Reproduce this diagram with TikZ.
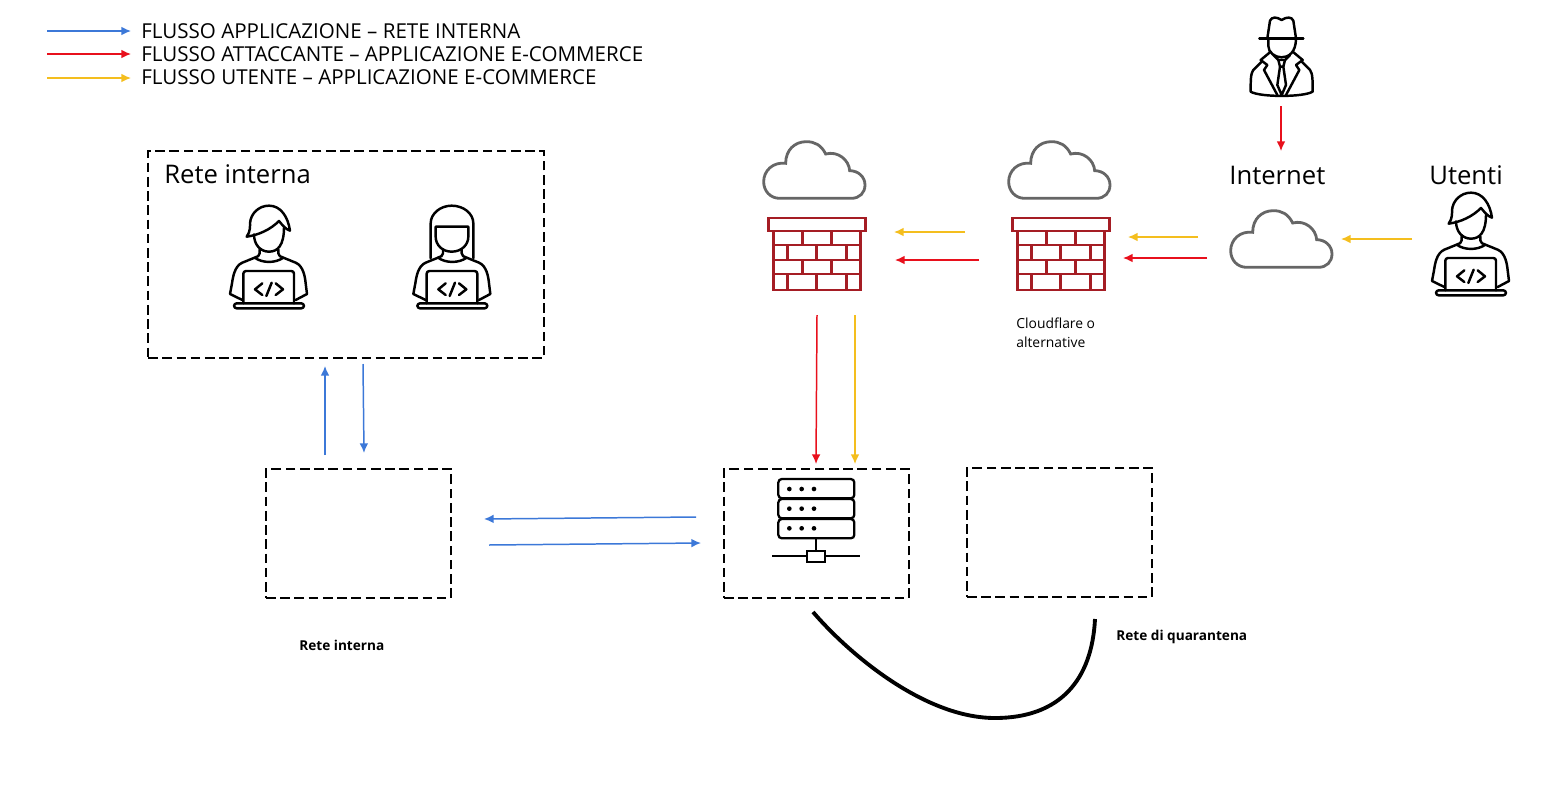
\documentclass[tikz,border=0pt]{standalone}
\usepackage{fontspec}
\setmainfont{Open Sans}
\usetikzlibrary{arrows.meta}
\definecolor{flowblue}{HTML}{3C78D8}
\definecolor{flowred}{HTML}{E8101C}
\definecolor{flowyellow}{HTML}{F4BE1E}
\definecolor{wallred}{HTML}{A51D24}
\definecolor{cloudgray}{HTML}{666666}
\newcommand{\coderbody}{
    \draw[icon] (177,178) -- (177,190) .. controls (177,198) and (170,200) .. (162,203)
        .. controls (185,220) and (225,220) .. (248,203)
        .. controls (240,200) and (233,198) .. (233,190) -- (233,178);
    \draw[icon] (162,203) -- (125,218) .. controls (102,228) and (97,260) .. (94,280) -- (88,312) -- (125,330);
    \draw[icon] (248,203) -- (285,218) .. controls (308,228) and (313,260) .. (315,280) -- (319,312) -- (285,330);
    \draw[icon, rounded corners=1.5pt] (128,340) -- (128,243) -- (280,243) -- (280,340);
    \draw[icon, rounded corners=1.5pt] (100,340) -- (100,355) -- (310,355) -- (310,340) -- cycle;
    \draw[icon] (185,280) -- (163,298) -- (185,315);
    \draw[icon] (213,278) -- (197,318);
    \draw[icon] (225,280) -- (247,298) -- (225,315);
}
\tikzset{
    zonebox/.style={draw, line width=1.1pt, dash pattern=on 5.5pt off 2.6pt, inner sep=0pt},
    legendtext/.style={anchor=west, font=\fontsize{11.7}{13}\selectfont, inner sep=0pt},
    bigtext/.style={anchor=west, font=\fontsize{14.6}{18}\selectfont, inner sep=0pt},
    smalltext/.style={anchor=west, font=\fontsize{7.9}{11}\selectfont, inner sep=0pt},
    boldtext/.style={anchor=west, font=\fontsize{7.75}{9}\selectfont\bfseries, inner sep=0pt},
    flow/.style={line width=0.85pt, -{Latex[length=5.5pt,width=5pt]}},
    icon/.style={line width=1.4pt, line cap=round, line join=round},
    wall/.style={line width=1.7pt, wallred},
    pics/cloudicon/.style={code={
        \draw[line width=1.6pt, cloudgray, scale=1/3, shift={(-40,-33)}] (90,205) -- (305,205)
            .. controls (330,205) and (346,188) .. (346,165)
            .. controls (346,140) and (325,122) .. (300,122)
            .. controls (298,90) and (265,62) .. (228,72)
            .. controls (215,45) and (195,35) .. (170,35)
            .. controls (135,35) and (108,60) .. (108,100)
            .. controls (70,95) and (42,122) .. (42,155)
            .. controls (42,183) and (62,205) .. (90,205) -- cycle;
    }},
    pics/wallicon/.style={code={
        \draw[wall] (0,0) rectangle (97,13);
        \draw[wall] (5,13) rectangle (92,72);
        \foreach \y in {27,42,56}
            \draw[wall] (5,\y) -- (92,\y);
        \foreach \x in {34,63} {
            \draw[wall] (\x,13) -- (\x,27);
            \draw[wall] (\x,42) -- (\x,56);
        }
        \foreach \x in {19,48,78} {
            \draw[wall] (\x,27) -- (\x,42);
            \draw[wall] (\x,56) -- (\x,72);
        }
    }},
    pics/codermale/.style={code={
        \begin{scope}[scale=1/3, shift={(-85,-45)}]
            \coderbody
            \draw[icon] (138,140) .. controls (150,125) and (148,105) .. (148,100)
                .. controls (150,70) and (175,47) .. (205,47)
                .. controls (240,47) and (262,80) .. (268,122)
                .. controls (255,118) and (245,105) .. (235,93)
                .. controls (210,118) and (175,135) .. (138,140) -- cycle;
            \draw[icon] (160,133) .. controls (160,165) and (180,185) .. (205,185)
                .. controls (232,185) and (250,165) .. (250,112);
        \end{scope}
    }},
    pics/coderfemale/.style={code={
        \begin{scope}[scale=1/3, shift={(-87,-45)}]
            \coderbody
            \draw[icon] (140,205) -- (140,100) .. controls (140,70) and (170,47) .. (203,47)
                .. controls (238,47) and (268,70) .. (268,100) -- (268,205);
            \draw[icon] (155,110) -- (253,110) -- (253,140)
                .. controls (253,165) and (232,185) .. (203,185)
                .. controls (175,185) and (155,165) .. (155,140) -- cycle;
        \end{scope}
    }},
    pics/attackericon/.style={code={
        \begin{scope}[scale=1/3]
            \draw[icon] (118,85) -- (250,85);
            \draw[icon] (142,85) -- (150,32) .. controls (155,20) and (170,20) .. (185,30)
                .. controls (200,20) and (215,20) .. (220,32) -- (228,85);
            \draw[icon] (145,85) -- (145,108) .. controls (145,128) and (165,142) .. (185,142)
                .. controls (205,142) and (228,128) .. (228,85);
            \draw[icon] (125,155) -- (100,180) .. controls (92,190) and (92,210) .. (92,245)
                .. controls (120,262) and (250,262) .. (278,245)
                .. controls (278,210) and (278,190) .. (270,180) -- (245,155);
            \draw[icon] (152,125) -- (122,150) -- (142,165) -- (132,180) -- (172,255);
            \draw[icon] (218,125) -- (248,150) -- (228,165) -- (238,180) -- (198,255);
            \draw[icon] (160,135) -- (175,150) -- (195,150) -- (210,135);
            \draw[icon] (175,150) -- (180,170) -- (190,170) -- (195,150);
            \draw[icon] (180,170) -- (172,225) -- (185,255) -- (198,225) -- (190,170);
        \end{scope}
    }}
}
\begin{document}
\begin{tikzpicture}[x=0.02cm, y=-0.02cm]
    \useasboundingbox (0,0) rectangle (1545,805);

    \coordinate (legendBlueA) at (47,31);
    \coordinate (legendBlueB) at (131,31);
    \coordinate (legendRedA) at (47,54);
    \coordinate (legendRedB) at (131,54);
    \coordinate (legendYellowA) at (47,78);
    \coordinate (legendYellowB) at (131,78);
    \draw[flow, flowblue] (legendBlueA) -- (legendBlueB);
    \draw[flow, flowred] (legendRedA) -- (legendRedB);
    \draw[flow, flowyellow] (legendYellowA) -- (legendYellowB);
    \node[legendtext] (legendBlue) at (141,31) {FLUSSO APPLICAZIONE – RETE INTERNA};
    \node[legendtext] (legendRed) at (141,54) {FLUSSO ATTACCANTE – APPLICAZIONE E-COMMERCE};
    \node[legendtext] (legendYellow) at (141,77) {FLUSSO UTENTE – APPLICAZIONE E-COMMERCE};

    \node[zonebox, minimum width=7.92cm, minimum height=4.14cm] (devBox) at (346,254.5) {};
    \node[zonebox, minimum width=3.7cm, minimum height=2.58cm] (internalBox) at (358.5,533.5) {};
    \node[zonebox, minimum width=3.7cm, minimum height=2.58cm] (serverBox) at (816.5,533.5) {};
    \node[zonebox, minimum width=3.7cm, minimum height=2.58cm] (quarantineBox) at (1059.5,532.5) {};

    \node[bigtext] (devLabel) at (164,174) {Rete interna};
    \node[bigtext] (internetLabel) at (1229,175) {Internet};
    \node[bigtext] (usersLabel) at (1429,175) {Utenti};
    \node[smalltext, align=left] (cloudflareLabel) at (1016,332.5) {Cloudflare o\\alternative};
    \node[boldtext] (internalLabel) at (299,645) {Rete interna};
    \node[boldtext] (quarantineLabel) at (1116,637) {Rete di quarantena};

    \pic at (229,205) {codermale};
    \pic at (413,205) {coderfemale};
    \pic at (1431,192) {codermale};
    \pic at (1220,10) {attackericon};
    \pic at (763,141) {cloudicon};
    \pic at (1008,141) {cloudicon};
    \pic at (1230,210) {cloudicon};
    \pic at (768,218) {wallicon};
    \pic at (1012,218) {wallicon};

    \begin{scope}[shift={(720,460)}, scale=1/3]
        \foreach \y in {57,117,177}
            \draw[line width=1.3pt, rounded corners=2pt] (175,\y) rectangle (403,\y+58);
        \foreach \y in {87,146,205}
            \foreach \x in {208,245,282}
                \fill (\x,\y) circle (7);
        \draw[line width=1.3pt] (289,235) -- (289,272);
        \draw[line width=1.3pt] (262,272) rectangle (316,305);
        \draw[line width=1.3pt] (157,289) -- (262,289);
        \draw[line width=1.3pt] (316,289) -- (420,289);
    \end{scope}

    \coordinate (attackerOut) at (1281,106);
    \coordinate (internetIn) at (1281,151);
    \draw[flow, flowred] (attackerOut) -- (internetIn);
    \coordinate (usersOut) at (1412,239);
    \coordinate (internetEast) at (1341,239);
    \draw[flow, flowyellow] (usersOut) -- (internetEast);
    \coordinate (internetY) at (1198,237);
    \coordinate (wallBY) at (1128,237);
    \draw[flow, flowyellow] (internetY) -- (wallBY);
    \coordinate (internetR) at (1207,258);
    \coordinate (wallBR) at (1123,258);
    \draw[flow, flowred] (internetR) -- (wallBR);
    \coordinate (wallBYout) at (965,232);
    \coordinate (wallAY) at (894,232);
    \draw[flow, flowyellow] (wallBYout) -- (wallAY);
    \coordinate (wallBRout) at (979,260);
    \coordinate (wallAR) at (895,260);
    \draw[flow, flowred] (wallBRout) -- (wallAR);
    \coordinate (wallARout) at (817,315);
    \coordinate (serverR) at (816,464);
    \draw[flow, flowred] (wallARout) -- (serverR);
    \coordinate (wallAYout) at (855,315);
    \coordinate (serverY) at (855,464);
    \draw[flow, flowyellow] (wallAYout) -- (serverY);

    \coordinate (internalUp) at (325,455);
    \coordinate (devIn) at (325,366);
    \draw[flow, flowblue] (internalUp) -- (devIn);
    \coordinate (devOut) at (363,364);
    \coordinate (internalDown) at (364,453);
    \draw[flow, flowblue] (devOut) -- (internalDown);
    \coordinate (serverOut) at (696,517);
    \coordinate (internalIn) at (484,519);
    \draw[flow, flowblue] (serverOut) -- (internalIn);
    \coordinate (internalOut) at (489,545);
    \coordinate (serverIn) at (701,543);
    \draw[flow, flowblue] (internalOut) -- (serverIn);

    \coordinate (serverSouth) at (813,612);
    \coordinate (quarantineSouth) at (1095,619);
    \draw[line width=2.2pt] (serverSouth) .. controls (850,655) and (925,718) .. (995,718)
        .. controls (1060,718) and (1092,680) .. (quarantineSouth);
\end{tikzpicture}
\end{document}
